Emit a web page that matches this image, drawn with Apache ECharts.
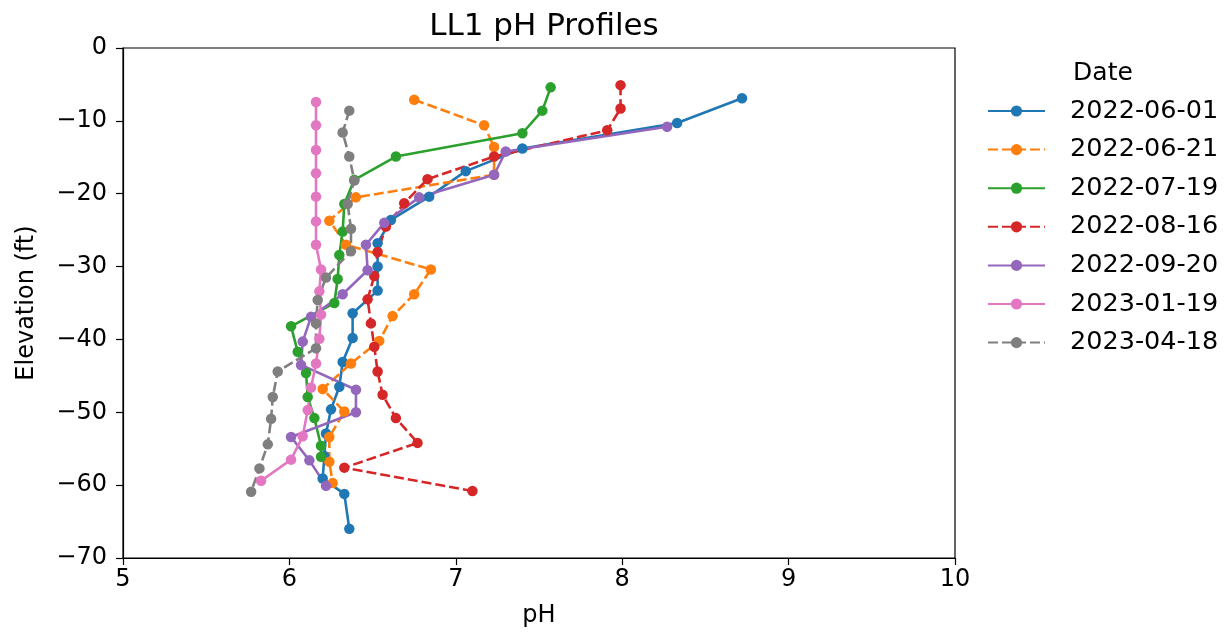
<!DOCTYPE html>
<html>
<head>
<meta charset="utf-8">
<script src="https://cdn.jsdelivr.net/npm/echarts@6/dist/echarts.min.js"></script>
<style>
html,body{margin:0;padding:0;background:#fff;}
#chart{width:1225px;height:636px;}
</style>
</head>
<body>
<div id="chart"></div>
<script>
// ---- data (pH, elevation ft) ----
const dates = ["2022-06-01","2022-06-21","2022-07-19","2022-08-16","2022-09-20","2023-01-19","2023-04-18"];

const ph_20220601 = [8.72,8.33,7.40,7.06,6.84,6.61,6.53,6.53,6.53,6.38,6.38,6.32,6.30,6.25,6.22,6.21,6.20,6.33,6.36];
const el_20220601 = [-6.9,-10.3,-13.8,-16.9,-20.4,-23.6,-26.8,-30.0,-33.3,-36.4,-39.8,-43.1,-46.5,-49.6,-52.9,-56.0,-59.1,-61.2,-66.0];

const ph_20220621 = [6.75,7.17,7.23,7.23,6.40,6.24,6.34,6.85,6.75,6.62,6.54,6.37,6.20,6.33,6.24,6.24,6.26];
const el_20220621 = [-7.1,-10.6,-13.6,-17.4,-20.5,-23.7,-27.0,-30.4,-33.8,-36.8,-40.2,-43.3,-46.8,-49.9,-53.4,-56.8,-59.7];

const ph_20220719 = [7.57,7.52,7.40,6.64,6.39,6.33,6.32,6.30,6.29,6.27,6.01,6.05,6.10,6.11,6.15,6.19,6.19];
const el_20220719 = [-5.4,-8.6,-11.7,-14.9,-18.1,-21.4,-25.2,-28.4,-31.7,-35.0,-38.2,-41.7,-44.6,-47.9,-50.8,-54.6,-56.1];

const ph_20220816 = [7.99,7.99,7.91,7.23,6.83,6.69,6.58,6.53,6.51,6.47,6.49,6.51,6.53,6.56,6.64,6.77,6.33,7.10];
const el_20220816 = [-5.1,-8.3,-11.3,-14.9,-18.0,-21.3,-24.5,-28.0,-31.3,-34.5,-37.8,-41.0,-44.4,-47.6,-50.8,-54.2,-57.6,-60.8];

const ph_20220920 = [8.27,7.30,7.23,6.78,6.57,6.46,6.47,6.32,6.13,6.08,6.07,6.40,6.40,6.01,6.12,6.22];
const el_20220920 = [-10.8,-14.2,-17.4,-20.5,-24.0,-27.0,-30.5,-33.8,-36.9,-40.3,-43.5,-46.9,-50.0,-53.4,-56.6,-60.1];

const ph_20230119 = [6.16,6.16,6.16,6.16,6.16,6.16,6.16,6.19,6.18,6.19,6.18,6.16,6.13,6.11,6.08,6.01,5.83];
const el_20230119 = [-7.4,-10.6,-14.0,-17.2,-20.4,-23.8,-27.0,-30.4,-33.4,-36.6,-39.9,-43.3,-46.6,-49.7,-53.3,-56.5,-59.4];

const ph_20230418 = [6.36,6.32,6.36,6.39,6.35,6.37,6.37,6.22,6.17,6.16,6.16,5.93,5.90,5.89,5.87,5.82,5.77];
const el_20230418 = [-8.6,-11.6,-14.9,-18.2,-21.4,-24.8,-27.9,-31.5,-34.6,-37.8,-41.2,-44.4,-47.9,-50.9,-54.4,-57.7,-60.9];

const xTicks = [5,6,7,8,9,10];
const yTicks = [0,-10,-20,-30,-40,-50,-60,-70];

// ---- build ----
const phs = [ph_20220601,ph_20220621,ph_20220719,ph_20220816,ph_20220920,ph_20230119,ph_20230418];
const els = [el_20220601,el_20220621,el_20220719,el_20220816,el_20220920,el_20230119,el_20230418];
const colors = ['#1f77b4','#ff7f0e','#2ca02c','#d62728','#9467bd','#e377c2','#7f7f7f'];
const dashed = [false,true,false,true,false,false,true];
const FONT = 'DejaVu Sans';
const fmt = v => String(v).replace('-', '\u2212');

const series = dates.map((d,i) => ({
  name: d,
  type: 'line',
  data: phs[i].map((p,j) => [p, els[i][j]]),
  symbol: 'circle',
  symbolSize: 10.5,
  showSymbol: true,
  animation: false,
  itemStyle: {color: colors[i]},
  lineStyle: {color: colors[i], width: 2.6, type: dashed[i] ? [10,4] : 'solid'},
  emphasis: {disabled: true}
}));

const chart = echarts.init(document.getElementById('chart'), null, {renderer:'canvas'});
chart.setOption({
  animation: false,
  backgroundColor: '#fff',
  textStyle: {fontFamily: FONT},
  title: [
    {text: 'LL1 pH Profiles', left: 539, top: 6, textAlign: 'center',
     textStyle: {fontFamily: FONT, fontSize: 31, fontWeight: 'normal', color: '#000'}},
    {text: 'Date', left: 1098, top: 56, textAlign: 'center',
     textStyle: {fontFamily: FONT, fontSize: 25, fontWeight: 'normal', color: '#000'}}
  ],
  legend: {
    orient: 'vertical',
    left: 982,
    top: 93,
    itemWidth: 57,
    itemHeight: 14,
    itemGap: 12.6,
    data: dates,
    textStyle: {fontFamily: FONT, fontSize: 25.5, color: '#000', lineHeight: 26, padding: [0,0,0,20]},
    selectedMode: false
  },
  grid: {left: 123, right: 270, top: 48, bottom: 78, show: true, borderColor: '#000', borderWidth: 1.2, containLabel: false},
  xAxis: {
    type: 'value', min: 5, max: 10, interval: 1,
    name: 'pH', nameLocation: 'middle', nameGap: 46,
    nameTextStyle: {fontFamily: FONT, fontSize: 24, color: '#000'},
    axisLine: {show: true, onZero: false, lineStyle: {color: '#000', width: 1.2}},
    axisTick: {show: true, length: 7, lineStyle: {color: '#000', width: 1.2}},
    axisLabel: {fontFamily: FONT, fontSize: 24, color: '#000', margin: 10, formatter: v => xTicks.includes(v) ? fmt(v) : ''},
    splitLine: {show: false}
  },
  yAxis: {
    type: 'value', min: -70, max: 0, interval: 10,
    name: 'Elevation (ft)', nameLocation: 'middle', nameGap: 84,
    nameTextStyle: {fontFamily: FONT, fontSize: 24, color: '#000'},
    axisLine: {show: true, onZero: false, lineStyle: {color: '#000', width: 1.2}},
    axisTick: {show: true, length: 7, lineStyle: {color: '#000', width: 1.2}},
    axisLabel: {fontFamily: FONT, fontSize: 24, color: '#000', margin: 16, formatter: v => yTicks.includes(v) ? fmt(v) : ''},
    splitLine: {show: false}
  },
  series: series
});
</script>
</body>
</html>
